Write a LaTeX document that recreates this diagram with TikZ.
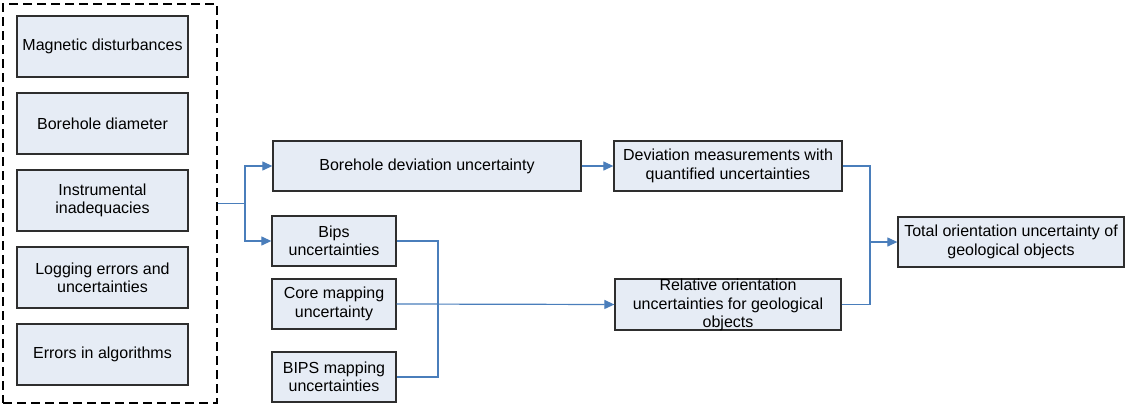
\documentclass[tikz,border=0pt]{standalone}
\usepackage{fontspec}
\setmainfont{Liberation Sans}
\usetikzlibrary{arrows.meta}
\definecolor{boxfill}{HTML}{E6ECF5}
\definecolor{boxline}{HTML}{2E2E2E}
\definecolor{conn}{HTML}{4A7EBB}
\tikzset{
  bx/.style={draw=boxline, fill=boxfill, line width=1.3pt, rectangle, inner sep=0pt},
  txt/.style={align=center, font=\fontsize{16pt}{18.4pt}\selectfont, text=black, inner sep=0pt},
  wire/.style={draw=conn, line width=1.2pt},
  arr/.style={wire, -{Triangle[length=10pt,width=9pt]}},
  group/.style={draw=black, line width=2.3pt, dash pattern=on 9pt off 5pt},
}
\begin{document}
\begin{tikzpicture}[x=1pt,y=-1pt]
\useasboundingbox (0,0) rectangle (1125,405);
% dashed group
\node[group, minimum width=214pt, minimum height=399pt, inner sep=0pt] (grp) at (110,203.5) {};
% left boxes
\node[bx, minimum width=171pt, minimum height=61pt] (m1) at (102.5,46.5) {};
\node[txt] at (m1) {Magnetic disturbances};
\node[bx, minimum width=171pt, minimum height=61pt] (m2) at (102.5,123.5) {};
\node[txt] at (m2) {Borehole diameter};
\node[bx, minimum width=171pt, minimum height=61pt] (m3) at (102.5,200.5) {};
\node[txt] at (m3) {Instrumental\\inadequacies};
\node[bx, minimum width=171pt, minimum height=61pt] (m4) at (102.5,277.5) {};
\node[txt] at (m4) {Logging errors and\\uncertainties};
\node[bx, minimum width=171pt, minimum height=61pt] (m5) at (102.5,354.5) {};
\node[txt] at (m5) {Errors in algorithms};
% middle boxes
\node[bx, minimum width=308pt, minimum height=50pt] (bd) at (427,166) {};
\node[txt] at (bd) {Borehole deviation uncertainty};
\node[bx, minimum width=124pt, minimum height=50pt] (bips) at (334,241) {};
\node[txt] at (bips) {Bips\\uncertainties};
\node[bx, minimum width=124pt, minimum height=50pt] (core) at (334,304) {};
\node[txt] at (core) {Core mapping\\uncertainty};
\node[bx, minimum width=124pt, minimum height=50pt] (bmap) at (334,377) {};
\node[txt] at (bmap) {BIPS mapping\\uncertainties};
% right boxes
\node[bx, minimum width=228pt, minimum height=50pt] (dev) at (728,166) {};
\node[txt] at (dev) {Deviation measurements with\\quantified uncertainties};
\node[bx, minimum width=226pt, minimum height=51pt] (rel) at (728,304.5) {};
\node[txt] at ([yshift=-0.5pt]rel.center) {Relative orientation\\uncertainties for geological\\objects};
\node[bx, minimum width=226pt, minimum height=50pt] (tot) at (1011,242) {};
\node[txt] at (tot) {Total orientation uncertainty of\\geological objects};
% connectors
\coordinate (s1) at (245,203.5);
\draw[wire] (grp.east) -- (s1);
\draw[arr] (s1) |- (bd.west);
\draw[arr] (s1) |- (bips.west);
\draw[arr] (bd.east) -- (dev.west);
\draw[wire] (bips.east) -- (438,241) |- (bmap.east);
\draw[arr] (core.east) -- (rel.west);
\coordinate (j2) at (870,242);
\draw[wire] (dev.east) -| (j2);
\draw[wire] (rel.east) -| (j2);
\draw[arr] (j2) -- (tot.west);
\end{tikzpicture}
\end{document}
